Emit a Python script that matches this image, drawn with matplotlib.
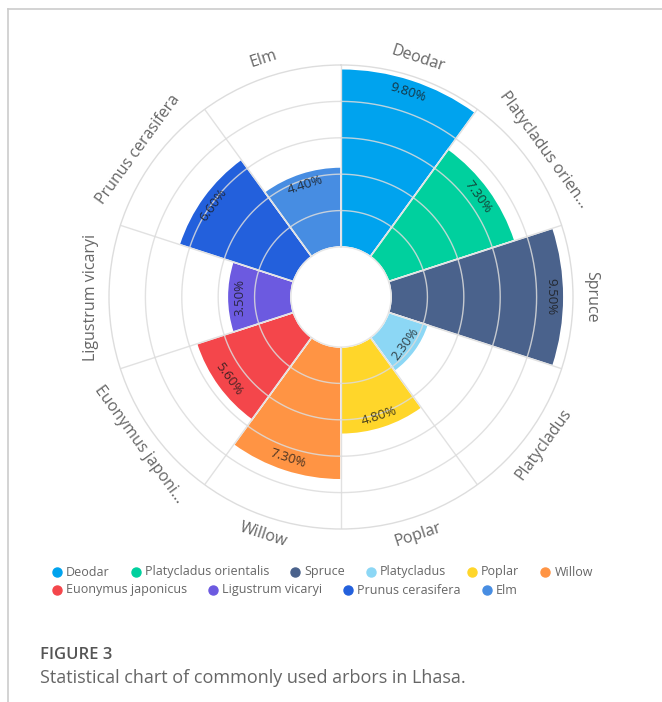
import matplotlib
matplotlib.use('Agg')

import matplotlib.pyplot as plt
from matplotlib.lines import Line2D
import numpy as np

plt.rcParams['font.family'] = ['Open Sans', 'DejaVu Sans']

# data
species = ["Deodar", "Platycladus orientalis", "Spruce", "Platycladus", "Poplar",
           "Willow", "Euonymus japonicus", "Ligustrum vicaryi", "Prunus cerasifera", "Elm"]
axis_labels = ["Deodar", "Platycladus orien...", "Spruce", "Platycladus", "Poplar",
               "Willow", "Euonymus japoni...", "Ligustrum vicaryi", "Prunus cerasifera", "Elm"]
shares = [9.8, 7.3, 9.5, 2.3, 4.8, 7.3, 5.6, 3.5, 6.6, 4.4]
colors = ["#00A3EE", "#00D09E", "#4A628C", "#8CD7F5", "#FFD62A",
          "#FF9444", "#F4464B", "#6C5AE0", "#2360DC", "#478DE2"]

W, H = 662, 702
fig = plt.figure(figsize=(W / 100, H / 100), dpi=100)

def fx(px):
    return px / W

def fy(py):
    return 1 - py / H

# page frame (top and left edges)
fig.add_artist(Line2D([fx(7.5), 1], [fy(8.5), fy(8.5)], color="#cccccc", lw=1.2))
fig.add_artist(Line2D([fx(7.5), fx(7.5)], [fy(8.5), 0], color="#cccccc", lw=1.2))

# polar axes: centre (341, 297), outer radius 232 px, hole 50 px
cx, cy, R = 341, 297, 232
ax = fig.add_axes([fx(cx - R), fy(cy + R), 2 * R / W, 2 * R / H], projection="polar")
ax.set_theta_zero_location("N")
ax.set_theta_direction(-1)
ax.set_ylim(0, 10)
ax.set_rorigin(-2.75)
ax.grid(False)
ax.set_xticks([])
ax.set_yticks([])
ax.spines["polar"].set_color("#dddddd")
ax.spines["polar"].set_linewidth(1.0)
ax.spines["inner"].set_color("#e6e6e6")
ax.spines["inner"].set_linewidth(1.0)

n = len(shares)
step = 2 * np.pi / n
theta = np.arange(n) * step + step / 2

ax.bar(theta, shares, width=step, bottom=0, color=colors,
       edgecolor="white", linewidth=1.2, zorder=2)

# ring and spoke grid drawn over bars
tt = np.linspace(0, 2 * np.pi, 361)
for r in [2, 4, 6, 8]:
    ax.plot(tt, np.full_like(tt, r), color="#dcdcdc", lw=1.0, alpha=0.85, zorder=3)
for i in range(n):
    ax.plot([i * step, i * step], [0, 10], color="#dcdcdc", lw=1.0, alpha=0.85, zorder=3)

def tangent_rot(deg):
    if deg <= 90 or deg >= 270:
        return -deg
    return 180 - deg

for i in range(n):
    deg = np.degrees(theta[i])
    rot = tangent_rot(deg)
    ax.text(theta[i], 11.0, axis_labels[i], rotation=rot, rotation_mode="anchor",
            ha="center", va="center", fontsize=11.5, color="#666666", zorder=5)
    ax.text(theta[i], shares[i] - 0.7, "{:.2f}%".format(shares[i]), rotation=rot,
            rotation_mode="anchor", ha="center", va="center", fontsize=9.5,
            color="#1a1a1a", alpha=0.8, zorder=5)

# legend, laid out as flowing rows
fig.canvas.draw()
renderer = fig.canvas.get_renderer()
rows = [(572, species[:6], colors[:6]), (590, species[6:], colors[6:])]
for py, names, cols in rows:
    x = 57
    for name, c in zip(names, cols):
        fig.add_artist(Line2D([fx(x)], [fy(py)], marker="o", markersize=6.5,
                              color=c, lw=0))
        t = fig.text(fx(x + 9), fy(py), name, fontsize=9, color="#666666",
                     ha="left", va="center")
        w = t.get_window_extent(renderer).width
        x = x + 9 + w + 26

fig.text(fx(40), fy(655), "FIGURE 3", fontsize=12, color="#555555",
         weight="semibold", ha="left", va="center")
fig.text(fx(40), fy(678), "Statistical chart of commonly used arbors in Lhasa.",
         fontsize=13, color="#666666", ha="left", va="center")

fig.savefig("out.png", dpi=100)
